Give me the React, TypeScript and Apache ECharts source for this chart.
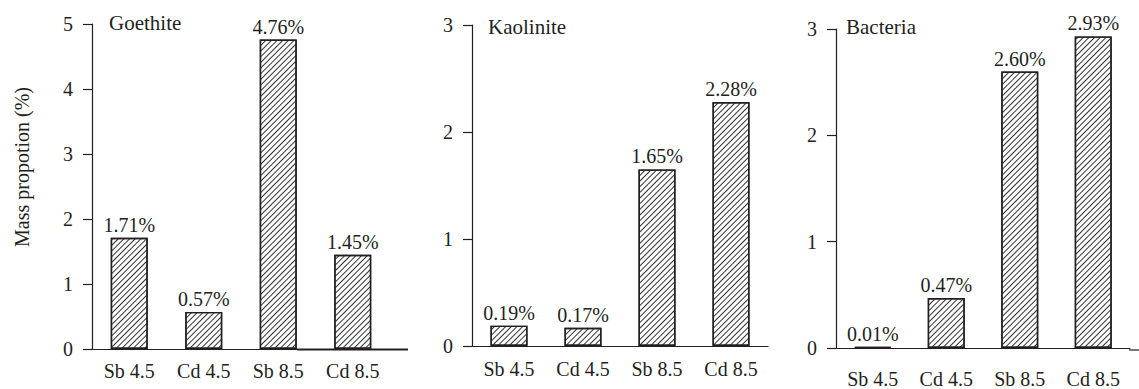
import React, { useEffect, useRef } from "react";
import * as echarts from "echarts";

// Sorption mass proportion (%) of Sb and Cd at pH 4.5 and 8.5 on three sorbents
const categories = ["Sb 4.5", "Cd 4.5", "Sb 8.5", "Cd 8.5"];
const goethiteValues = [1.71, 0.57, 4.76, 1.45];
const kaoliniteValues = [0.19, 0.17, 1.65, 2.28];
const bacteriaValues = [0.01, 0.47, 2.6, 2.93];
const panelTitles = ["Goethite", "Kaolinite", "Bacteria"];
const yAxisMax = [5, 3, 3];
const yAxisTitle = "Mass propotion (%)";

const FONT = "'Liberation Serif', 'Times New Roman', serif";
const INK = "#231f20";
const FS = 20;

const grids = [
  { left: 92, top: 24, width: 298, height: 325 },
  { left: 472, top: 25, width: 296, height: 321 },
  { left: 836, top: 29, width: 294, height: 321 },
];
const xLabelMargins = [12, 13, 21];
const titlePos = [
  { x: 109, y: 23 },
  { x: 488, y: 27 },
  { x: 846, y: 27 },
];

// fine "/" hatching inside the bars
const hatch = {
  symbol: "rect",
  symbolSize: 1,
  dashArrayX: [1, 0],
  dashArrayY: [1, 3],
  rotation: -Math.PI / 4,
  color: "#333",
  backgroundColor: "#fff",
};

export default function App() {
  const ref = useRef<HTMLDivElement>(null);

  useEffect(() => {
    if (!ref.current) return;
    const chart = echarts.init(ref.current, null, { renderer: "svg" });
    const seriesValues = [goethiteValues, kaoliniteValues, bacteriaValues];

    const option = {
      animation: false,
      backgroundColor: "#fff",
      textStyle: { fontFamily: FONT, color: INK },
      grid: grids.map((g) => ({ ...g, containLabel: false })),
      xAxis: grids.map((_, i) => ({
        type: "category",
        gridIndex: i,
        data: categories,
        axisLine: { lineStyle: { color: INK, width: 1.2 } },
        axisTick: { alignWithLabel: true, length: 7, lineStyle: { color: INK, width: 1.2 } },
        axisLabel: { color: INK, fontFamily: FONT, fontSize: FS, margin: xLabelMargins[i] },
        splitLine: { show: false },
      })),
      yAxis: grids.map((_, i) => ({
        type: "value",
        gridIndex: i,
        min: 0,
        max: yAxisMax[i],
        interval: 1,
        axisLine: { show: true, lineStyle: { color: INK, width: 1.2 } },
        axisTick: { show: true, length: 9, lineStyle: { color: INK, width: 1.2 } },
        axisLabel: { color: INK, fontFamily: FONT, fontSize: FS, margin: 19 },
        splitLine: { show: false },
      })),
      series: seriesValues.map((vals, i) => ({
        type: "bar",
        xAxisIndex: i,
        yAxisIndex: i,
        data: vals,
        barWidth: 37,
        itemStyle: {
          color: "#fff",
          borderColor: INK,
          borderWidth: 1.4,
          decal: hatch,
        },
        label: {
          show: true,
          position: "top",
          distance: 3,
          color: INK,
          fontFamily: FONT,
          fontSize: FS,
          formatter: (p: any) => `${Number(p.value).toFixed(2)}%`,
        },
      })),
      graphic: [
        ...panelTitles.map((t, i) => ({
          type: "text",
          x: titlePos[i].x,
          y: titlePos[i].y,
          style: {
            text: t,
            fontFamily: FONT,
            fontSize: 21,
            fill: INK,
            verticalAlign: "middle",
          },
        })),
        {
          type: "text",
          x: 22,
          y: 167,
          rotation: Math.PI / 2,
          style: {
            text: yAxisTitle,
            fontFamily: FONT,
            fontSize: FS,
            fill: INK,
            align: "center",
            verticalAlign: "middle",
          },
        },
        // heavier stretch of the first panel's baseline and its run-out
        {
          type: "line",
          shape: { x1: 297, y1: 349.5, x2: 408, y2: 349.5 },
          style: { stroke: INK, lineWidth: 2 },
        },
        {
          type: "line",
          shape: { x1: 1129, y1: 350, x2: 1139, y2: 350 },
          style: { stroke: INK, lineWidth: 1.2 },
        },
      ],
    };

    chart.setOption(option as any);
    return () => chart.dispose();
  }, []);

  return (
    <div
      ref={ref}
      style={{ position: "fixed", left: 0, top: 0, width: 1139, height: 389, background: "#fff" }}
    />
  );
}
